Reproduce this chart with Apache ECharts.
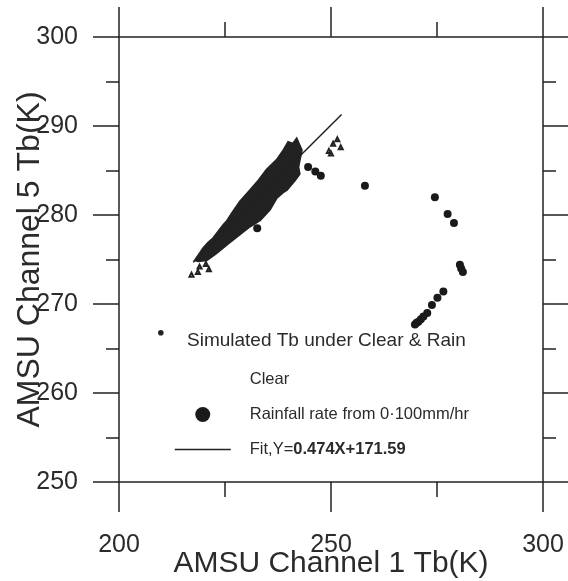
<!DOCTYPE html>
<html>
<head>
<meta charset="utf-8">
<script src="https://cdn.jsdelivr.net/npm/echarts@6/dist/echarts.min.js"></script>
<style>html,body{margin:0;padding:0;background:#fff;}#c{width:568px;height:581px;}</style>
</head>
<body>
<div id="c"></div>
<script>
// ---- data ----
var xTicks = [200, 250, 300];
var yTicks = [250, 260, 270, 280, 290, 300];

// outline of the dense "Clear" point cloud (Ch1 Tb, Ch5 Tb)
var cloudX = [217.9, 219.9, 221.0, 222.2, 224.6, 225.4, 226.6, 228.5, 230.9, 232.9, 234.8, 237.2, 238.8, 239.9, 241.0, 241.9, 243.1, 242.3, 242.6, 241.5, 239.6, 238.6, 237.2, 235.6, 233.3, 230.9, 228.5, 225.8, 223.0, 220.7, 218.7];
var cloudY = [274.9, 276.3, 276.9, 277.4, 278.9, 279.3, 280.2, 281.5, 282.8, 283.9, 285.1, 286.2, 287.3, 288.2, 288.0, 288.6, 287.3, 285.4, 284.6, 283.9, 282.8, 282.5, 281.9, 280.6, 279.4, 278.7, 277.8, 276.8, 275.7, 274.9, 274.8];

// scattered "Clear" points outside the dense cloud
var clearX = [249.5, 250.5, 251.5, 252.3, 250.0, 219.0, 220.5, 221.2, 218.6, 217.1];
var clearY = [287.2, 288.0, 288.5, 287.6, 286.9, 274.2, 274.5, 273.9, 273.6, 273.3];

// rain points
var rainX = [232.6, 244.6, 246.3, 247.6, 258.0, 274.5, 277.5, 279.0, 280.4, 280.7, 281.1, 276.5, 275.1, 273.8, 272.7, 271.8, 271.2, 270.6, 270.2, 269.8];
var rainY = [278.5, 285.4, 284.9, 284.4, 283.3, 282.0, 280.1, 279.1, 274.4, 274.0, 273.6, 271.4, 270.7, 269.9, 269.0, 268.6, 268.3, 268.0, 267.9, 267.7];

// fit line end points
var fitX = [217.5, 252.5];
var fitY = [274.7, 291.3];

var names = {
  clear: 'Clear',
  rain: 'Rainfall rate from 0\u00b7100mm/hr',
  fit: 'Fit,Y=0.474X+171.59',
  heading: 'Simulated Tb under Clear & Rain',
  xName: 'AMSU Channel 1 Tb(K)',
  yName: 'AMSU Channel 5 Tb(K)'
};

// ---- build ----
function pairs(xs, ys) { return xs.map(function (x, i) { return [x, ys[i]]; }); }

var FONT = "'Liberation Sans', Arial, sans-serif";
var INK = '#222';
var TXT = '#2b2b2b';

var lineStyle = { color: INK, width: 1.5 };

function xAxis(pos, labels) {
  return {
    type: 'value', position: pos, min: xTicks[0], max: xTicks[xTicks.length - 1],
    interval: xTicks[1] - xTicks[0],
    axisLine: { show: true, onZero: false, lineStyle: lineStyle },
    axisTick: { show: true, inside: false, length: 30, lineStyle: lineStyle },
    minorTick: { show: true, splitNumber: 2, length: 15, lineStyle: lineStyle },
    splitLine: { show: false }, minorSplitLine: { show: false },
    axisLabel: { show: labels, fontSize: 25, margin: 51, color: TXT, fontFamily: FONT },
    name: labels ? names.xName : '', nameLocation: 'middle', nameGap: 67, nameMoveOverlap: false,
    nameTextStyle: { fontSize: 30, color: TXT, fontFamily: FONT }
  };
}
function yAxis(pos, labels) {
  return {
    type: 'value', position: pos, min: yTicks[0], max: yTicks[yTicks.length - 1],
    interval: yTicks[1] - yTicks[0],
    axisLine: { show: true, onZero: false, lineStyle: lineStyle },
    axisTick: { show: true, inside: false, length: 26, lineStyle: lineStyle },
    minorTick: { show: true, splitNumber: 2, length: 13, lineStyle: lineStyle },
    splitLine: { show: false }, minorSplitLine: { show: false },
    axisLabel: { show: labels, fontSize: 25, margin: 41, color: TXT, fontFamily: FONT },
    name: labels ? names.yName : '', nameLocation: 'middle', nameGap: 73, nameRotate: 90, nameMoveOverlap: false,
    nameTextStyle: { fontSize: 32, color: TXT, fontFamily: FONT }
  };
}

var chart = echarts.init(document.getElementById('c'), null, { renderer: 'canvas' });
chart.setOption({
  animation: false,
  backgroundColor: '#fff',
  grid: { left: 119, right: 25, top: 37, bottom: 99, containLabel: false, outerBoundsMode: 'none' },
  xAxis: [xAxis('bottom', true), xAxis('top', false)],
  yAxis: [yAxis('left', true), yAxis('right', false)],
  legend: {
    orient: 'vertical', left: 174, top: 371, itemGap: 18, padding: 0,
    itemWidth: 56, itemHeight: 15,
    textStyle: {
      fontSize: 16.5, color: TXT, fontFamily: FONT, padding: [0, 0, 0, 14],
      rich: {
        n: { fontSize: 16.5, color: TXT, fontFamily: FONT },
        b: { fontSize: 16.5, color: TXT, fontFamily: FONT, fontWeight: 'bold' }
      }
    },
    formatter: function (n) {
      if (n === names.fit) { return '{n|Fit,Y=}{b|0.474X+171.59}'; }
      return n;
    },
    data: [
      { name: names.clear, icon: 'circle', itemStyle: { opacity: 0 } },
      { name: names.rain, icon: 'circle', itemStyle: { opacity: 1, color: '#1a1a1a' } },
      { name: names.fit, itemStyle: { opacity: 0 }, lineStyle: { color: INK, width: 1.5, opacity: 1 } }
    ]
  },
  graphic: [
    { type: 'circle', left: 158, top: 330, shape: { r: 2.8 }, style: { fill: INK } },
    { type: 'text', left: 187, top: 331, style: { text: names.heading, fontSize: 19, fill: TXT, fontFamily: FONT } }
  ],
  series: [
    {
      name: names.clear, type: 'custom', xAxisIndex: 0, yAxisIndex: 0,
      itemStyle: { color: INK },
      data: [[cloudX[0], cloudY[0]]],
      renderItem: function (params, api) {
        var pts = cloudX.map(function (x, i) { return api.coord([x, cloudY[i]]); });
        return { type: 'polygon', shape: { points: pts }, style: { fill: INK, stroke: INK, lineWidth: 2, lineJoin: 'miter' } };
      }
    },
    {
      name: names.clear, type: 'scatter', symbol: 'emptyTriangle', symbolSize: 4,
      itemStyle: { color: INK, borderColor: INK, borderWidth: 1, opacity: 1 },
      data: pairs(clearX, clearY)
    },
    {
      name: names.rain, type: 'scatter', symbol: 'circle', symbolSize: 8,
      itemStyle: { color: '#1a1a1a', opacity: 1 },
      data: pairs(rainX, rainY)
    },
    {
      name: names.fit, type: 'line', symbol: 'none', showSymbol: false,
      lineStyle: { color: INK, width: 1.5 }, itemStyle: { color: INK },
      data: pairs(fitX, fitY), z: 5
    }
  ]
});
</script>
</body>
</html>
